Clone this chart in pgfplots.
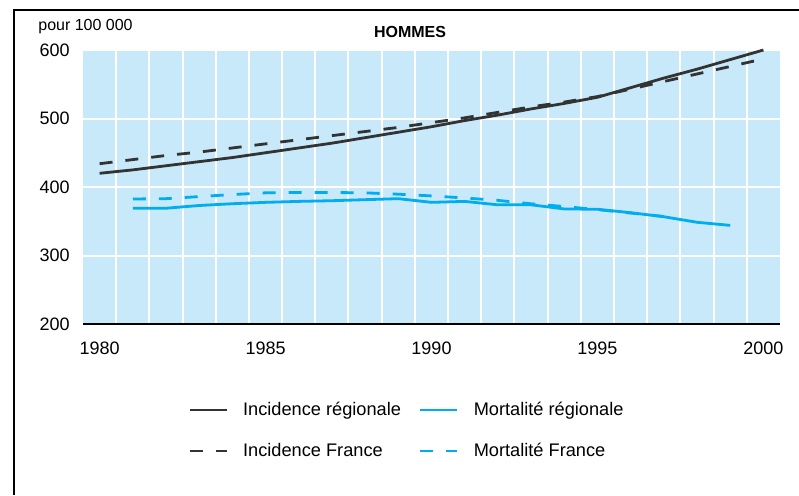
\documentclass[border=0pt]{standalone}
\usepackage{pgfplots}
\pgfplotsset{compat=1.18}
\usepackage{fontspec}
\setmainfont{Liberation Sans}
\definecolor{bgblue}{RGB}{200,233,249}
\definecolor{linegray}{RGB}{51,51,51}
\definecolor{cyanline}{RGB}{0,174,239}
\begin{document}
\begin{tikzpicture}
\path[use as bounding box] (-41.5pt,-85.5pt) rectangle (358pt,162pt);
\begin{axis}[
  at={(0pt,0pt)}, anchor=south west,
  scale only axis, width=348.5pt, height=137pt,
  xmin=1979.5, xmax=2000.5, ymin=200, ymax=600,
  xtick={1980,1985,1990,1995,2000},
  minor xtick={1980.5,1981.5,...,1999.5},
  ytick={200,300,400,500,600},
  major tick length=0pt, minor tick length=0pt,
  xminorgrids=true, ymajorgrids=true, xmajorgrids=false,
  minor grid style={white, line width=1pt},
  major grid style={white, line width=1pt},
  axis background/.style={fill=bgblue},
  axis lines*=left,
  y axis line style={draw=none},
  x axis line style={black, line width=0.8pt},
  /pgf/number format/assume math mode=true,
  /pgf/number format/1000 sep={},
  ticklabel style={font=\fontsize{9}{10}\selectfont, inner sep=0pt},
  yticklabel style={anchor=east, xshift=-6.5pt},
  xticklabel style={anchor=north, yshift=-9pt},
  clip=false,
  legend columns=2,
  legend style={at={(0.1506,-0.3887)}, anchor=west, draw=none, fill=none,
    inner xsep=0pt, inner ysep=0pt,
    font=\fontsize{9.1}{10}\selectfont,
    nodes={inner sep=0pt, text height=7pt, text depth=2pt},
    cells={anchor=west},
    row sep=11.5pt,
    /tikz/every odd column/.append style={column sep=7.5pt},
    /tikz/every even column/.append style={column sep=9pt}},
  legend image code/.code={\draw[#1] (0pt,0pt) -- (18.5pt,0pt);},
]
\addplot[linegray, line width=1.4pt] coordinates {
(1980,420) (1981,425) (1982,431) (1983,437) (1984,443) (1985,450)
(1986,457) (1987,464) (1988,472) (1989,480) (1990,488) (1991,497)
(1992,505) (1993,514) (1994,522) (1995,531) (1996,545) (1997,559)
(1998,572) (1999,586) (2000,600)};
\addlegendentry{Incidence régionale}
\addplot[cyanline, line width=1.4pt] coordinates {
(1981,369) (1982,369) (1983,373) (1984,375.6) (1985,377.6) (1986,379)
(1987,380) (1988,381.5) (1989,383) (1990,377.6) (1991,379) (1992,374)
(1993,374) (1994,368) (1995,367.5) (1996,362.5) (1997,356.6) (1998,348.5)
(1999,344)};
\addlegendentry{Mortalité régionale}
\addplot[linegray, line width=1.4pt, dash pattern=on 6.5pt off 6.5pt] coordinates {
(1980,434) (1981,440) (1982,446) (1983,451) (1984,457) (1985,463)
(1986,469) (1987,475) (1988,481) (1989,487) (1990,494) (1991,501)
(1992,509) (1993,517) (1994,524) (1995,532) (1996,543) (1997,554)
(1998,565) (1999,576) (2000,587)};
\addlegendentry{Incidence France}
\addplot[cyanline, line width=1.4pt, dash pattern=on 6.5pt off 6.5pt] coordinates {
(1981,382.5) (1982,383) (1983,386) (1984,389) (1985,391.5) (1986,392)
(1987,392) (1988,391.5) (1989,389.5) (1990,387) (1991,384) (1992,380.5)
(1993,375.5) (1994,371.5) (1995,367) (1996,362) (1997,357)};
\addlegendentry{Mortalité France}
\node[anchor=west, inner sep=0pt, font=\fontsize{8}{9}\selectfont] at (rel axis cs:-0.0646,1.0839) {pour 100 000};
\node[inner sep=0pt, font=\fontsize{8}{9}\selectfont\bfseries] at (rel axis cs:0.4692,1.0657) {HOMMES};
\end{axis}
\draw[black, line width=0.8pt] (-34.5pt,-85.5pt) -- (-34.5pt,157pt) -- (358pt,157pt);
\end{tikzpicture}
\end{document}
